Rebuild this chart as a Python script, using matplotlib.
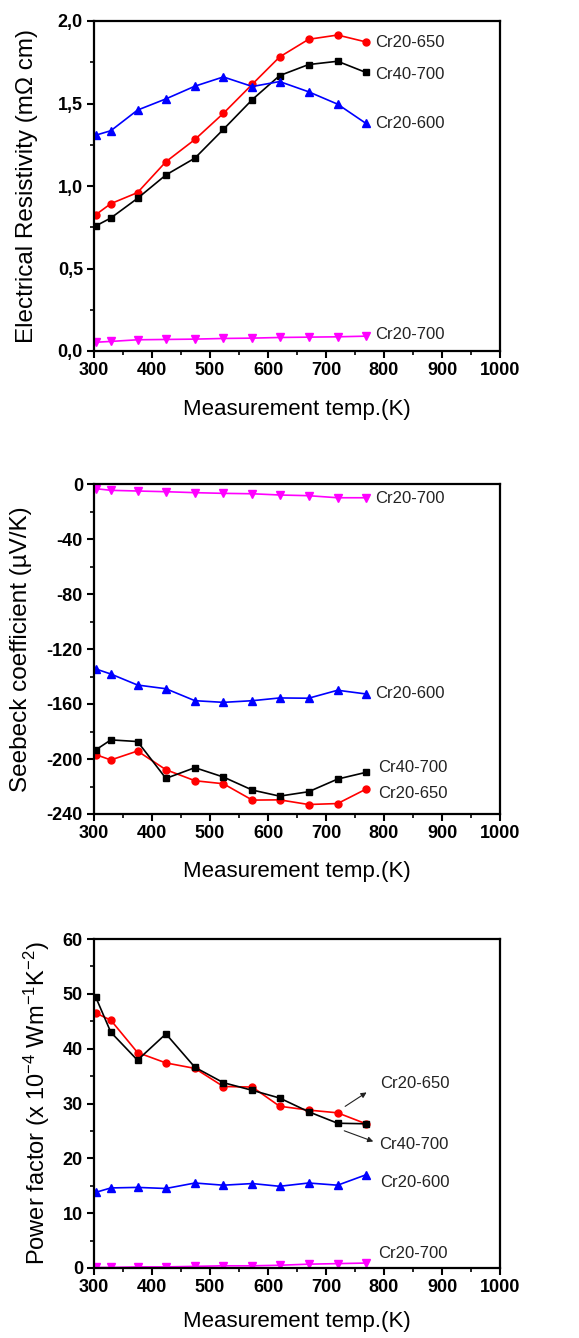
import matplotlib
matplotlib.use("Agg")
import matplotlib.pyplot as plt
from matplotlib.ticker import MultipleLocator, FuncFormatter

plt.rcParams['font.family'] = ['Liberation Sans', 'DejaVu Sans']
plt.rcParams['axes.unicode_minus'] = False
plt.rcParams['mathtext.fontset'] = 'custom'
plt.rcParams['mathtext.rm'] = 'Liberation Sans'
plt.rcParams['mathtext.default'] = 'regular'

temp = [303, 329, 375, 424, 474, 523, 573, 620, 670, 720, 769]

# electrical resistivity (mOhm cm)
res_cr20_650 = [0.826, 0.893, 0.96, 1.147, 1.282, 1.44, 1.617, 1.782, 1.889, 1.915, 1.873]
res_cr40_700 = [0.758, 0.806, 0.925, 1.067, 1.169, 1.343, 1.524, 1.669, 1.736, 1.756, 1.688]
res_cr20_600 = [1.308, 1.335, 1.46, 1.528, 1.605, 1.661, 1.603, 1.633, 1.571, 1.496, 1.379]
res_cr20_700 = [0.053, 0.058, 0.068, 0.07, 0.072, 0.076, 0.078, 0.082, 0.084, 0.086, 0.09]

# seebeck coefficient (uV/K)
see_cr20_650 = [-196.8, -200.7, -194.2, -207.8, -215.8, -218.0, -229.9, -229.7, -233.1, -232.4, -221.9]
see_cr40_700 = [-193.4, -186.1, -187.3, -214.1, -206.3, -213.1, -222.6, -227.0, -223.8, -214.6, -209.7]
see_cr20_600 = [-134.5, -138.2, -146.2, -148.9, -157.6, -158.8, -157.6, -155.6, -155.8, -150.0, -152.7]
see_cr20_700 = [-3.4, -4.6, -5.1, -5.6, -6.3, -6.8, -7.1, -8.0, -8.5, -10.0, -10.0]

# power factor (x 1e-4 W/mK^2)
pf_cr20_650 = [46.5, 45.2, 39.3, 37.4, 36.4, 33.1, 33.0, 29.5, 28.8, 28.3, 26.3]
pf_cr40_700 = [49.4, 43.0, 37.9, 42.7, 36.6, 33.8, 32.4, 31.0, 28.5, 26.4, 26.3]
pf_cr20_600 = [13.8, 14.6, 14.7, 14.5, 15.5, 15.1, 15.4, 14.9, 15.5, 15.1, 17.0]
pf_cr20_700 = [0.1, 0.1, 0.2, 0.2, 0.3, 0.4, 0.4, 0.5, 0.7, 0.8, 0.9]

fig = plt.figure(figsize=(5.79, 13.38), dpi=100)
W = 406 / 579
ax1 = fig.add_axes([94 / 579, 1 - 351 / 1338, W, 330 / 1338])
ax2 = fig.add_axes([94 / 579, 1 - 814 / 1338, W, 330 / 1338])
ax3 = fig.add_axes([94 / 579, 1 - 1268 / 1338, W, 329 / 1338])

lw = 1.2
ms = 5


def draw(ax, red, black, blue, mag):
    ax.plot(temp, red, color='red', marker='o', lw=lw, ms=ms)
    ax.plot(temp, black, color='black', marker='s', lw=lw, ms=ms)
    ax.plot(temp, blue, color='blue', marker='^', lw=lw, ms=ms + 1)
    ax.plot(temp, mag, color='magenta', marker='v', lw=lw, ms=ms + 1)


def style(ax, ymin, ymax, ymaj, ymin_step, xlab_y, ylab_x):
    ax.set_xlim(300, 1000)
    ax.set_ylim(ymin, ymax)
    ax.xaxis.set_major_locator(MultipleLocator(100))
    ax.xaxis.set_minor_locator(MultipleLocator(50))
    ax.yaxis.set_major_locator(MultipleLocator(ymaj))
    ax.yaxis.set_minor_locator(MultipleLocator(ymin_step))
    ax.tick_params(which='major', direction='out', length=5, width=1.5, pad=3,
                   top=False, right=False)
    ax.tick_params(which='minor', direction='out', length=3, width=1.2,
                   top=False, right=False)
    for lab in ax.get_xticklabels() + ax.get_yticklabels():
        lab.set_fontweight('bold')
        lab.set_fontsize(13)
    for s in ax.spines.values():
        s.set_linewidth(1.6)
    ax.set_xlabel('Measurement temp.(K)', fontsize=16, va='center')
    ax.xaxis.set_label_coords(0.5, xlab_y)
    ax.yaxis.set_label_coords(ylab_x, 0.5)


draw(ax1, res_cr20_650, res_cr40_700, res_cr20_600, res_cr20_700)
ax1.set_ylabel('Electrical Resistivity (m\u03a9 cm)', fontsize=17.5, va='center')
ax1.yaxis.set_major_formatter(FuncFormatter(lambda v, p: ('%.1f' % v).replace('.', ',')))
style(ax1, 0, 2.0, 0.5, 0.25, -59 / 330, -67 / 406)
tc = '#222222'
ax1.text(785, 1.87, 'Cr20-650', fontsize=12, va='center', color=tc)
ax1.text(785, 1.676, 'Cr40-700', fontsize=12, va='center', color=tc)
ax1.text(785, 1.38, 'Cr20-600', fontsize=12, va='center', color=tc)
ax1.text(785, 0.103, 'Cr20-700', fontsize=12, va='center', color=tc)

draw(ax2, see_cr20_650, see_cr40_700, see_cr20_600, see_cr20_700)
ax2.set_ylabel('Seebeck coefficient (\u00b5V/K)', fontsize=17.5, va='center')
style(ax2, -240, 0, 40, 20, -58 / 330, -73 / 406)
ax2.text(785, -10.2, 'Cr20-700', fontsize=12, va='center', color=tc)
ax2.text(785, -152.4, 'Cr20-600', fontsize=12, va='center', color=tc)
ax2.text(790, -206.4, 'Cr40-700', fontsize=12, va='center', color=tc)
ax2.text(790, -225.4, 'Cr20-650', fontsize=12, va='center', color=tc)

draw(ax3, pf_cr20_650, pf_cr40_700, pf_cr20_600, pf_cr20_700)
ax3.set_ylabel('Power factor (x 10$^{-4}$ Wm$^{-1}$K$^{-2}$)', fontsize=17, va='center')
style(ax3, 0, 60, 10, 5, -54 / 329, -57 / 406)
ax3.text(793, 33.7, 'Cr20-650', fontsize=12, va='center', color=tc)
ax3.text(791, 22.6, 'Cr40-700', fontsize=12, va='center', color=tc)
ax3.text(793, 15.6, 'Cr20-600', fontsize=12, va='center', color=tc)
ax3.text(790, 2.7, 'Cr20-700', fontsize=12, va='center', color=tc)
ax3.annotate('', xy=(774, 32.3), xytext=(729, 29.2),
             arrowprops=dict(arrowstyle='-|>', color='#222222', lw=0.8, mutation_scale=8))
ax3.annotate('', xy=(786, 22.9), xytext=(727, 25.2),
             arrowprops=dict(arrowstyle='-|>', color='#222222', lw=0.8, mutation_scale=8))

fig.savefig('out.png', dpi=100)
